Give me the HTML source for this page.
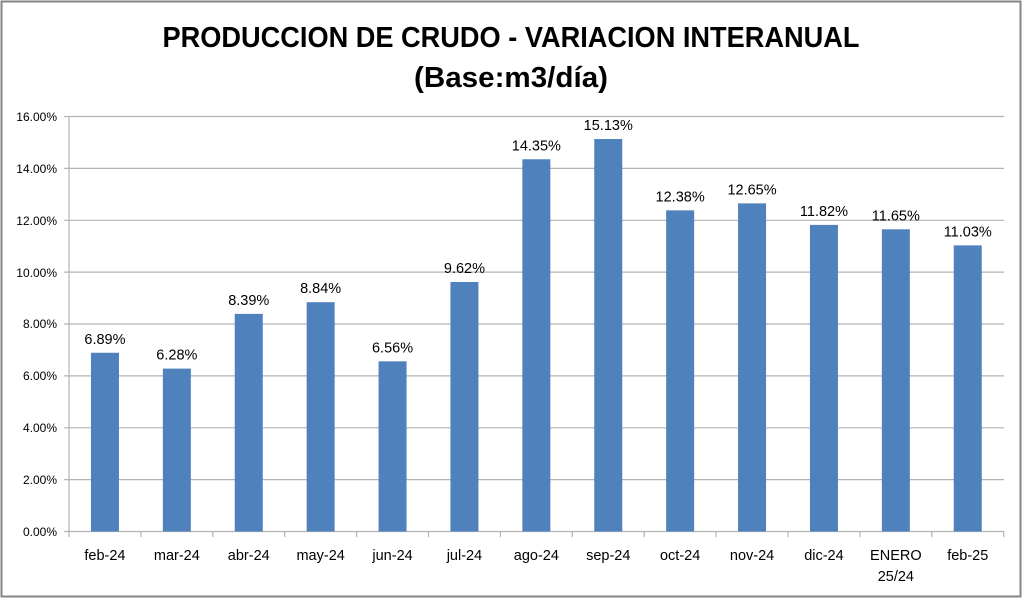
<!DOCTYPE html>
<html><head><meta charset="utf-8"><style>body{margin:0;background:#fff}svg{display:block}</style></head><body>
<svg width="1023" height="599" xmlns="http://www.w3.org/2000/svg" font-family="'Liberation Sans', sans-serif">
<rect x="1.5" y="1.5" width="1019" height="595" fill="#fff" stroke="#868686" stroke-width="2"/>
<text x="511" y="47" font-size="29" font-weight="bold" text-anchor="middle" textLength="697" lengthAdjust="spacingAndGlyphs">PRODUCCION DE CRUDO - VARIACION INTERANUAL</text>
<text x="511" y="87" font-size="29" font-weight="bold" text-anchor="middle" textLength="194" lengthAdjust="spacingAndGlyphs">(Base:m3/día)</text>
<g stroke="#b3b3b3" stroke-width="1.2">
<line x1="64" y1="116.5" x2="1004" y2="116.5"/><line x1="64" y1="168.4" x2="1004" y2="168.4"/><line x1="64" y1="220.3" x2="1004" y2="220.3"/><line x1="64" y1="272.1" x2="1004" y2="272.1"/><line x1="64" y1="324" x2="1004" y2="324"/><line x1="64" y1="375.9" x2="1004" y2="375.9"/><line x1="64" y1="427.8" x2="1004" y2="427.8"/><line x1="64" y1="479.6" x2="1004" y2="479.6"/><line x1="64" y1="531.5" x2="1004" y2="531.5"/>
<line x1="69" y1="116" x2="69" y2="537"/>
<line x1="140.9" y1="531" x2="140.9" y2="537"/><line x1="212.8" y1="531" x2="212.8" y2="537"/><line x1="284.7" y1="531" x2="284.7" y2="537"/><line x1="356.6" y1="531" x2="356.6" y2="537"/><line x1="428.5" y1="531" x2="428.5" y2="537"/><line x1="500.4" y1="531" x2="500.4" y2="537"/><line x1="572.3" y1="531" x2="572.3" y2="537"/><line x1="644.2" y1="531" x2="644.2" y2="537"/><line x1="716.1" y1="531" x2="716.1" y2="537"/><line x1="788" y1="531" x2="788" y2="537"/><line x1="859.9" y1="531" x2="859.9" y2="537"/><line x1="931.8" y1="531" x2="931.8" y2="537"/><line x1="1003.7" y1="531" x2="1003.7" y2="537"/>
</g>
<g font-size="12" text-anchor="end" fill="#000">
<text x="57" y="121">16.00%</text><text x="57" y="173">14.00%</text><text x="57" y="225">12.00%</text><text x="57" y="277">10.00%</text><text x="57" y="328">8.00%</text><text x="57" y="380">6.00%</text><text x="57" y="432">4.00%</text><text x="57" y="484">2.00%</text><text x="57" y="536">0.00%</text>
</g>
<g fill="#4f81bd">
<rect x="90.95" y="352.77" width="28" height="178.73"/>
<rect x="162.85" y="368.6" width="28" height="162.9"/>
<rect x="234.75" y="313.86" width="28" height="217.64"/>
<rect x="306.65" y="302.19" width="28" height="229.31"/>
<rect x="378.55" y="361.33" width="28" height="170.17"/>
<rect x="450.45" y="281.96" width="28" height="249.54"/>
<rect x="522.35" y="159.26" width="28" height="372.24"/>
<rect x="594.25" y="139.03" width="28" height="392.47"/>
<rect x="666.15" y="210.36" width="28" height="321.14"/>
<rect x="738.05" y="203.36" width="28" height="328.14"/>
<rect x="809.95" y="224.89" width="28" height="306.61"/>
<rect x="881.85" y="229.3" width="28" height="302.2"/>
<rect x="953.75" y="245.38" width="28" height="286.12"/>
</g>
<g font-size="14.5" text-anchor="middle" fill="#000">
<text x="104.95" y="343.8">6.89%</text>
<text x="176.85" y="359.6">6.28%</text>
<text x="248.75" y="304.9">8.39%</text>
<text x="320.65" y="293.2">8.84%</text>
<text x="392.55" y="352.3">6.56%</text>
<text x="464.45" y="273">9.62%</text>
<text x="536.35" y="150.3">14.35%</text>
<text x="608.25" y="130">15.13%</text>
<text x="680.15" y="201.4">12.38%</text>
<text x="752.05" y="194.4">12.65%</text>
<text x="823.95" y="215.9">11.82%</text>
<text x="895.85" y="220.3">11.65%</text>
<text x="967.75" y="236.4">11.03%</text>
<text x="104.95" y="560">feb-24</text>
<text x="176.85" y="560">mar-24</text>
<text x="248.75" y="560">abr-24</text>
<text x="320.65" y="560">may-24</text>
<text x="392.55" y="560">jun-24</text>
<text x="464.45" y="560">jul-24</text>
<text x="536.35" y="560">ago-24</text>
<text x="608.25" y="560">sep-24</text>
<text x="680.15" y="560">oct-24</text>
<text x="752.05" y="560">nov-24</text>
<text x="823.95" y="560">dic-24</text>
<text x="895.85" y="560">ENERO</text>
<text x="895.85" y="581">25/24</text>
<text x="967.75" y="560">feb-25</text>
</g>
</svg>
</body></html>
